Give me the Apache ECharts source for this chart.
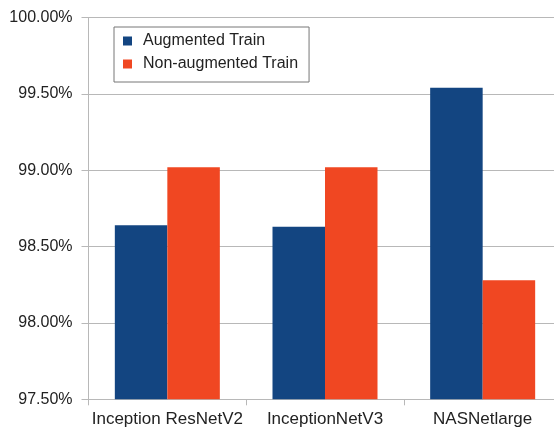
<!DOCTYPE html>
<html>
<head>
<meta charset="utf-8">
<script src="https://cdn.jsdelivr.net/npm/echarts@6/dist/echarts.min.js"></script>
<style>
  html, body { margin: 0; padding: 0; background: #fff; }
  #chart { width: 554px; height: 427px; }
</style>
</head>
<body>
<div id="chart"></div>
<script>
  // 数据
  var categories = ['Inception ResNetV2', 'InceptionNetV3', 'NASNetlarge'];
  var augmented = [98.64, 98.63, 99.54];
  var nonAugmented = [99.02, 99.02, 98.28];
  var seriesNames = ['Augmented Train', 'Non-augmented Train'];

  var font = '"Liberation Sans", Arial, sans-serif';
  var gridColor = '#b8b8b8';

  var chart = echarts.init(document.getElementById('chart'));
  chart.setOption({
    animation: false,
    color: ['#134581', '#f04722'],
    textStyle: { fontFamily: font, color: '#222' },
    grid: { left: 88.5, top: 17.5, width: 473, bottom: 27.7, outerBoundsMode: 'none' },
    legend: {
      orient: 'vertical',
      left: 114,
      top: 27,
      padding: [6, 11, 10, 9],
      itemGap: 7,
      itemWidth: 9,
      itemHeight: 9,
      icon: 'rect',
      borderColor: '#777',
      borderWidth: 1,
      backgroundColor: '#fff',
      textStyle: { fontFamily: font, fontSize: 16, color: '#222', lineHeight: 16, padding: [0, 0, 0, 6] },
      data: seriesNames
    },
    xAxis: {
      type: 'category',
      data: categories,
      axisLine: { lineStyle: { color: gridColor } },
      axisTick: { show: true, length: 6, lineStyle: { color: gridColor } },
      axisLabel: { fontFamily: font, fontSize: 17, color: '#222', margin: 12, interval: 0 }
    },
    yAxis: {
      type: 'value',
      min: 97.5,
      max: 100,
      interval: 0.5,
      axisLine: { show: true, lineStyle: { color: gridColor } },
      axisTick: { show: true, length: 7, lineStyle: { color: gridColor } },
      splitLine: { lineStyle: { color: gridColor } },
      axisLabel: {
        fontFamily: font, fontSize: 16, color: '#222', margin: 16,
        formatter: function (v) { return v.toFixed(2) + '%'; }
      }
    },
    series: [
      { name: seriesNames[0], type: 'bar', data: augmented, barGap: '0%', barCategoryGap: '33.4%' },
      { name: seriesNames[1], type: 'bar', data: nonAugmented, barGap: '0%', barCategoryGap: '33.4%' }
    ]
  });
</script>
</body>
</html>
